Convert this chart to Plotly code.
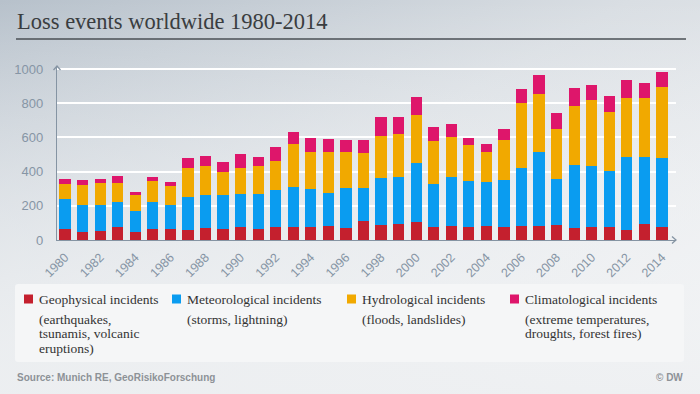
import base64
import plotly.graph_objects as go

years = list(range(1980, 2015))
geophysical = [64, 47, 55, 76, 47, 66, 66, 57, 70, 66, 76, 66, 74, 76, 74, 82, 70, 109,
               86, 94, 105, 74, 82, 78, 82, 78, 80, 82, 88, 68, 78, 74, 58, 94, 78]
meteorological = [176, 160, 152, 146, 121, 156, 139, 196, 193, 197, 191, 205, 218, 232, 224, 195, 234, 197,
                  278, 276, 345, 255, 286, 267, 257, 273, 343, 433, 269, 372, 355, 327, 427, 393, 400]
hydrological = [87, 115, 124, 111, 93, 121, 109, 170, 170, 133, 154, 162, 170, 251, 215, 236, 213, 201,
                242, 248, 281, 252, 232, 208, 176, 232, 376, 337, 292, 344, 384, 345, 347, 341, 415]
climatological = [30, 27, 24, 41, 22, 27, 27, 55, 56, 58, 80, 52, 84, 71, 83, 76, 70, 80,
                  111, 99, 107, 82, 76, 43, 44, 68, 82, 111, 96, 105, 87, 94, 107, 88, 89]

series_names = ["Geophysical incidents", "Meteorological incidents",
                "Hydrological incidents", "Climatological incidents"]
series_sub = [["(earthquakes,", "tsunamis, volcanic", "eruptions)"], ["(storms, lightning)"],
              ["(floods, landslides)"], ["(extreme temperatures,", "droughts, forest fires)"]]
colors = ["#c4202e", "#0a9cf0", "#f1a900", "#de166b"]
y_ticks = [0, 200, 400, 600, 800, 1000]
x_ticks = list(range(1980, 2015, 2))

W, H = 700, 394
L, R, T, B = 57, 676, 66, 240  # plot area in pixels

def px(x):
    return (x - L) / (R - L)

def py(y):
    return (B - y) / (B - T)

fig = go.Figure()
for name, vals, col in zip(series_names, [geophysical, meteorological, hydrological, climatological], colors):
    fig.add_trace(go.Bar(x=years, y=vals, name=name, marker=dict(color=col, line=dict(width=0)),
                         showlegend=False))

# background svg (gradient + legend box)
svg = f'''<svg xmlns="http://www.w3.org/2000/svg" width="{W}" height="{H}" viewBox="0 0 {W} {H}" preserveAspectRatio="none">
<defs><linearGradient id="g" x1="0" y1="0" x2="1" y2="1">
<stop offset="0" stop-color="#b7c1cb"/><stop offset="0.45" stop-color="#d9dee3"/><stop offset="1" stop-color="#f1f2f4"/>
</linearGradient>
<linearGradient id="g2" x1="0" y1="0" x2="0" y2="1">
<stop offset="0" stop-color="#ffffff" stop-opacity="0"/><stop offset="1" stop-color="#eef0f2" stop-opacity="0.9"/>
</linearGradient></defs>
<rect x="0" y="0" width="{W}" height="{H}" fill="url(#g)"/>
<rect x="0" y="0" width="{W}" height="{H}" fill="url(#g2)"/>
<rect x="15" y="284" width="669" height="78" rx="3" ry="3" fill="#f5f6f7"/>
</svg>'''
src = "data:image/svg+xml;base64," + base64.b64encode(svg.encode()).decode()
fig.add_layout_image(dict(source=src, xref="paper", yref="paper", x=px(0), y=py(0),
                          sizex=W / (R - L), sizey=H / (B - T), sizing="stretch",
                          xanchor="left", yanchor="top", layer="below"))

shapes = []
# title underline
shapes.append(dict(type="line", xref="paper", yref="paper", x0=px(16), x1=px(686), y0=py(39), y1=py(39),
                   line=dict(color="#4a4f55", width=1.5)))
# axis arrows
shapes.append(dict(type="path", xref="paper", yref="paper", xsizemode="pixel", ysizemode="pixel",
                   xanchor=0, yanchor=1, path="M -3.5,-4 L 0,0 L 3.5,-4",
                   line=dict(color="#8594a3", width=1.3)))
shapes.append(dict(type="path", xref="paper", yref="paper", xsizemode="pixel", ysizemode="pixel",
                   xanchor=1, yanchor=0, path="M -4,3.5 L 0,0 L -4,-3.5",
                   line=dict(color="#8594a3", width=1.3)))

annotations = [
    dict(text="Loss events worldwide 1980-2014", xref="paper", yref="paper", x=px(15), y=py(21),
         xanchor="left", yanchor="middle", showarrow=False,
         font=dict(family="Liberation Serif, DejaVu Serif, serif", size=22.5, color="#3a3d40")),
    dict(text="Source: Munich RE, GeoRisikoForschung", xref="paper", yref="paper", x=px(15), y=py(377),
         xanchor="left", yanchor="middle", showarrow=False,
         font=dict(family="Liberation Sans, Arial, sans-serif", size=10, color="#8d9297", weight="bold")),
    dict(text="© DW", xref="paper", yref="paper", x=px(685), y=py(377),
         xanchor="right", yanchor="middle", showarrow=False,
         font=dict(family="Liberation Sans, Arial, sans-serif", size=10, color="#8d9297", weight="bold")),
]

leg_x = [24, 172, 347, 510]
for lx, name, subs, col in zip(leg_x, series_names, series_sub, colors):
    shapes.append(dict(type="rect", xref="paper", yref="paper", x0=px(lx), x1=px(lx + 9),
                       y0=py(303.5), y1=py(294.5), fillcolor=col, line=dict(width=0)))
    annotations.append(dict(text=name, xref="paper", yref="paper", x=px(lx + 13), y=py(299),
                            xanchor="left", yanchor="middle", showarrow=False,
                            font=dict(family="Liberation Serif, serif", size=13.5, color="#333333")))
    for i, line in enumerate(subs):
        annotations.append(dict(text=line, xref="paper", yref="paper", x=px(lx + 13), y=py(319 + 14.5 * i),
                                xanchor="left", yanchor="middle", showarrow=False,
                                font=dict(family="Liberation Serif, serif", size=13.5, color="#333333")))

fig.update_layout(
    width=W, height=H,
    margin=dict(l=L, r=W - R, t=T, b=H - B, pad=0),
    barmode="stack", bargap=0.36,
    paper_bgcolor="#d8dde2", plot_bgcolor="rgba(0,0,0,0)",
    shapes=shapes, annotations=annotations,
    xaxis=dict(range=[1979.54, 2014.8], tickvals=x_ticks, ticktext=[str(v) for v in x_ticks],
               tickangle=-45, showgrid=False, zeroline=False, showline=True, linecolor="#8594a3",
               linewidth=1.3, ticks="", ticklabelstandoff=4,
               tickfont=dict(family="Liberation Sans, Arial, sans-serif", size=12.5, color="#8695a5")),
    yaxis=dict(range=[0, 1018], tickvals=y_ticks, ticktext=[str(v) for v in y_ticks],
               showgrid=True, gridcolor="#ffffff", gridwidth=1.6, zeroline=False,
               showline=True, linecolor="#8594a3", linewidth=1.3, ticks="", ticklabelstandoff=10,
               tickfont=dict(family="Liberation Sans, Arial, sans-serif", size=13, color="#8695a5")),
)

fig.write_html("out.html", config={"displayModeBar": False},
               post_script="document.body.style.margin='0';document.body.style.padding='0';")
